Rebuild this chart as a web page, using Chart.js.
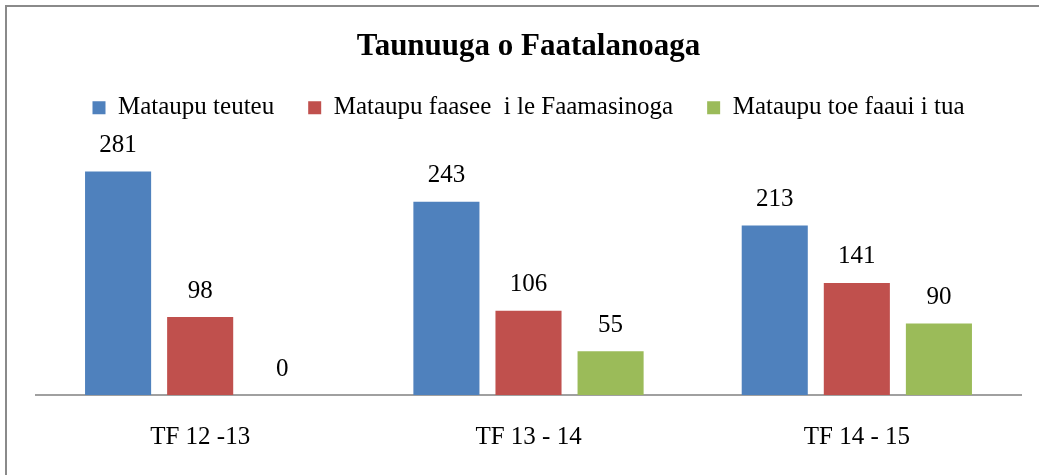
<!DOCTYPE html>
<html>
<head>
<meta charset="utf-8">
<script src="https://cdn.jsdelivr.net/npm/chart.js@4.4.1/dist/chart.umd.min.js"></script>
<style>
	html, body { margin: 0; padding: 0; background: #fff; overflow: hidden; }
	#frame { position: absolute; left: 5px; top: 5px; width: 1100px; height: 520px; border: 2px solid #8a8a8a; }
	#wrap { position: absolute; left: 0; top: 0; width: 1039px; height: 475px; }
</style>
</head>
<body>
<div id="frame"></div>
<div id="wrap"><canvas id="chartBar"></canvas></div>
<script>
const categories = ['TF 12 -13', 'TF 13 - 14', 'TF 14 - 15'];
const seriesNames = ['Mataupu teuteu', 'Mataupu faasee  i le Faamasinoga', 'Mataupu toe faaui i tua'];
const teuteu = [281, 243, 213];
const faasee = [98, 106, 141];
const toeFaaui = [0, 55, 90];
const colors = ['#4F81BD', '#C0504D', '#9BBB59'];

const serif = '"Liberation Serif", "Times New Roman", serif';

const valueLabels = {
	id: 'valueLabels',
	afterDatasetsDraw(chart) {
		const ctx = chart.ctx;
		ctx.save();
		ctx.font = '25px ' + serif;
		ctx.fillStyle = '#000';
		ctx.textAlign = 'center';
		ctx.textBaseline = 'middle';
		chart.data.datasets.forEach((ds, i) => {
			chart.getDatasetMeta(i).data.forEach((bar, j) => {
				ctx.fillText(String(ds.data[j]), bar.x, bar.y - 26);
			});
		});
		ctx.restore();
	}
};

const Bar = document.getElementById('chartBar').getContext('2d');
const chart = new Chart(Bar, {
	type: 'bar',
	data: {
		labels: categories,
		datasets: [teuteu, faasee, toeFaaui].map((d, i) => ({
			label: seriesNames[i],
			data: d,
			backgroundColor: colors[i],
			borderWidth: 0,
			categoryPercentage: 0.75,
			barPercentage: 0.805
		}))
	},
	options: {
		responsive: true,
		maintainAspectRatio: false,
		animation: false,
		layout: { padding: { left: 36, right: 18, top: 0, bottom: 0 } },
		plugins: {
			title: {
				display: true,
				text: 'Taunuuga o Faatalanoaga',
				color: '#000',
				font: { family: serif, size: 31, weight: 'bold' },
				padding: { top: 28, bottom: -4 }
			},
			legend: {
				position: 'top',
				labels: {
					color: '#000',
					font: { family: serif, size: 25 },
					boxWidth: 13,
					boxHeight: 13,
					padding: 34
				}
			},
			tooltip: { enabled: false }
		},
		scales: {
			x: {
				grid: { display: false, drawTicks: false },
				border: { display: true, color: '#a0a0a0', width: 2 },
				ticks: { color: '#000', font: { family: serif, size: 25 }, padding: 27 },
				afterFit(scale) { scale.height = 80; }
			},
			y: {
				display: false,
				min: 0,
				max: 333
			}
		}
	},
	plugins: [valueLabels]
});
</script>
</body>
</html>
